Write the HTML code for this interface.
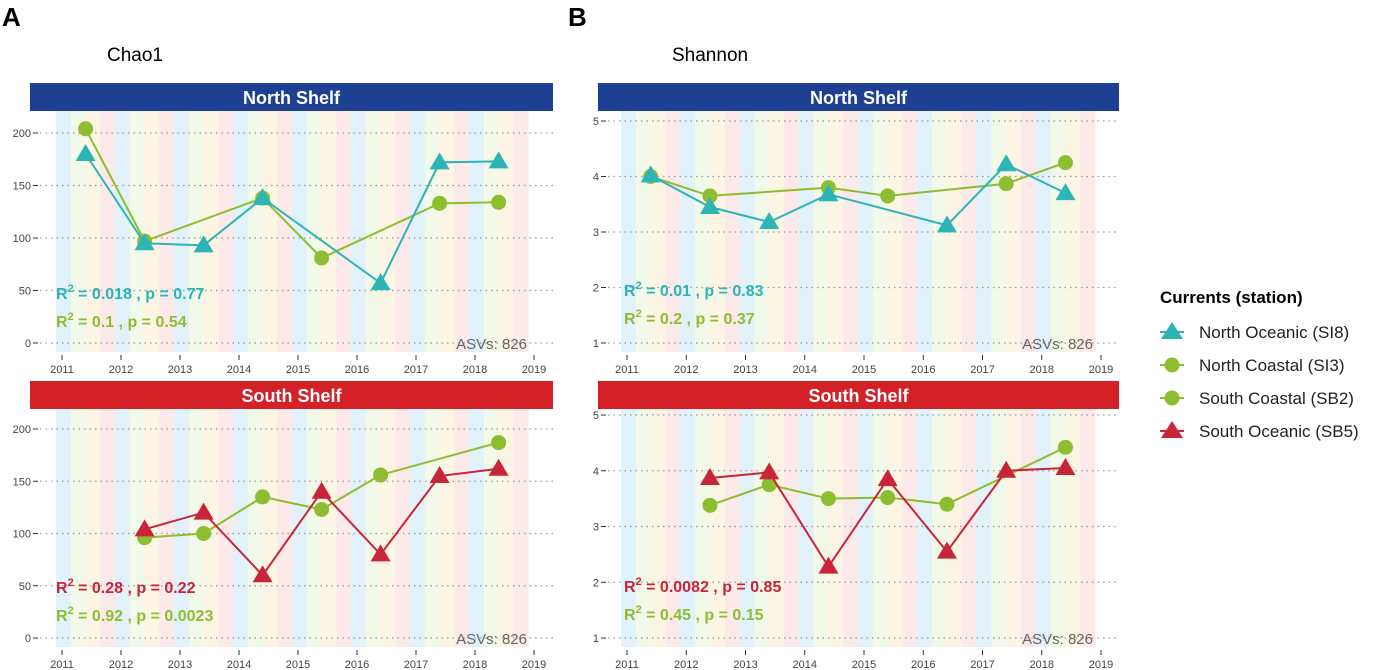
<!DOCTYPE html>
<html><head><meta charset="utf-8">
<style>
html,body{margin:0;padding:0;background:#fff;}
svg{display:block;font-family:"Liberation Sans",sans-serif;}
</style></head>
<body>
<svg id="c" width="1374" height="670" viewBox="0 0 1374 670">
<text x="2" y="26" font-size="26" font-weight="bold">A</text>
<text x="107" y="61" font-size="19">Chao1</text>
<text x="568" y="26" font-size="26" font-weight="bold">B</text>
<text x="672" y="61" font-size="19">Shannon</text>
<g id="legend">
<text x="1160" y="303" font-size="17" font-weight="bold">Currents (station)</text>
</g>
</svg>
<script>
const years = [2011.4,2012.4,2013.4,2014.4,2015.4,2016.4,2017.4,2018.4];
const xTicks = [2011,2012,2013,2014,2015,2016,2017,2018,2019];
const chaoTicks = [0,50,100,150,200];
const shanTicks = [1,2,3,4,5];
const chaoNorthTeal = [180,95,93,138,null,57,172,173];
const chaoNorthGreen = [204,97,null,138,81,null,133,134];
const chaoSouthRed = [null,104,120,60,140,80,155,162];
const chaoSouthGreen = [null,96,100,135,123,156,null,187];
const shanNorthTeal = [4.02,3.45,3.18,3.68,null,3.12,4.22,3.7];
const shanNorthGreen = [4.0,3.65,null,3.8,3.65,null,3.87,4.25];
const shanSouthRed = [null,3.87,3.97,2.28,3.85,2.55,4.0,4.05];
const shanSouthGreen = [null,3.38,3.75,3.5,3.52,3.4,null,4.42];

const NS="http://www.w3.org/2000/svg";
const svg=document.getElementById('c');
const TEAL="#2db4b6",GREEN="#8dbd30",RED="#c8243a";
function el(t,a,p){const e=document.createElementNS(NS,t);for(const k in a)e.setAttribute(k,a[k]);(p||svg).appendChild(e);return e;}

function panel(o){
  const g=el('g',{});
  
  
  const xs=v=>o.x0+(v-2011)*o.xk;
  const ys=v=>o.y0-(v-o.ymin)*o.yk;
  const sc=["#e2f2fb","#f3f9e8","#fdf5e4","#fce9ea"];
  for(let y=2011;y<2019;y++)for(let q=0;q<4;q++){
    const s=el('rect',{x:xs(y-0.1+q*0.25),y:o.top,width:o.xk*0.25+0.5,height:o.bot-o.top,fill:sc[q]},g);
    
    
  }
  const h=el('rect',{x:o.hx,y:o.hy,width:o.hw,height:28,fill:o.hcol},g);
  
  
  const ht=el('text',{x:o.hx+o.hw/2,y:o.hy+21,'text-anchor':'middle','font-size':18,'font-weight':'bold',fill:'#fff'},g);
  ht.textContent=o.title;
  
  
  o.yt.forEach(t=>{
    const yy=ys(t);
    el('line',{x1:o.hx+10,x2:o.hx+o.hw,y1:yy,y2:yy,stroke:'#999','stroke-dasharray':'1.5 4','stroke-width':1.2},g);
    el('line',{x1:o.hx+3,x2:o.hx+8,y1:yy,y2:yy,stroke:'#333'},g);
    const tl=el('text',{x:o.hx+1,y:yy+4,'text-anchor':'end','font-size':11,fill:'#444'},g);
    tl.textContent=t;
    
    
  });
  xTicks.forEach(t=>{
    const xx=xs(t);
    el('line',{x1:xx,x2:xx,y1:o.bot+3,y2:o.bot+8,stroke:'#333'},g);
    const tl=el('text',{x:xx,y:o.bot+21,'text-anchor':'middle','font-size':11,fill:'#444'},g);
    tl.textContent=t;
    
    
  });
  o.series.forEach(s=>{
    const pts=[];
    s.v.forEach((v,i)=>{if(v!==null)pts.push([xs(years[i]),ys(v)]);});
    const ln=el('polyline',{points:pts.map(p=>p.join(',')).join(' '),fill:'none',stroke:s.c,'stroke-width':2},g);
    
    
    pts.forEach(p=>{
      let m;
      if(s.tri) m=el('polygon',{points:`${p[0]},${p[1]-10} ${p[0]-10},${p[1]+7} ${p[0]+10},${p[1]+7}`,fill:s.c},g);
      else m=el('circle',{cx:p[0],cy:p[1],r:7.5,fill:s.c},g);
      
      
    });
  });
  o.stats.forEach((st,i)=>{
    const t=el('text',{x:o.hx+26,y:o.statY+i*28,'font-size':16,'font-weight':'bold',fill:st.c},g);
    t.innerHTML=`R<tspan dy="-7" font-size="11">2</tspan><tspan dy="7"> = ${st.r} , p = ${st.p}</tspan>`;
    
    
  });
  const a=el('text',{x:o.hx+o.hw-26,y:o.bot-3,'text-anchor':'end','font-size':15,fill:'#666'},g);
  a.textContent='ASVs: 826';
  
  
}
panel({name:'chao1-north-panel',title:'North Shelf',hcol:'#1f3f93',hx:30,hy:83,hw:523,top:111,bot:352,x0:62,xk:59,y0:343,ymin:0,yk:1.05,yt:chaoTicks,statY:299,
  series:[{v:chaoNorthGreen,c:GREEN},{v:chaoNorthTeal,c:TEAL,tri:true}],stats:[{c:TEAL,r:'0.018',p:'0.77'},{c:GREEN,r:'0.1',p:'0.54'}]});
panel({name:'chao1-south-panel',title:'South Shelf',hcol:'#d42027',hx:30,hy:381,hw:523,top:409,bot:647,x0:62,xk:59,y0:638,ymin:0,yk:1.045,yt:chaoTicks,statY:593,
  series:[{v:chaoSouthGreen,c:GREEN},{v:chaoSouthRed,c:RED,tri:true}],stats:[{c:RED,r:'0.28',p:'0.22'},{c:GREEN,r:'0.92',p:'0.0023'}]});
panel({name:'shannon-north-panel',title:'North Shelf',hcol:'#1f3f93',hx:598,hy:83,hw:521,top:111,bot:352,x0:627,xk:59.25,y0:343,ymin:1,yk:55.5,yt:shanTicks,statY:296,
  series:[{v:shanNorthGreen,c:GREEN},{v:shanNorthTeal,c:TEAL,tri:true}],stats:[{c:TEAL,r:'0.01',p:'0.83'},{c:GREEN,r:'0.2',p:'0.37'}]});
panel({name:'shannon-south-panel',title:'South Shelf',hcol:'#d42027',hx:598,hy:381,hw:521,top:409,bot:647,x0:627,xk:59.25,y0:638,ymin:1,yk:55.75,yt:shanTicks,statY:592,
  series:[{v:shanSouthGreen,c:GREEN},{v:shanSouthRed,c:RED,tri:true}],stats:[{c:RED,r:'0.0082',p:'0.85'},{c:GREEN,r:'0.45',p:'0.15'}]});

const lg=document.getElementById('legend');
const legItems=[['North Oceanic (SI8)',TEAL,true,332],['North Coastal (SI3)',GREEN,false,365],['South Coastal (SB2)',GREEN,false,398],['South Oceanic (SB5)',RED,true,431]];
legItems.forEach(it=>{
  const y=it[3], x=1172;
  el('line',{x1:x-12,x2:x+12,y1:y,y2:y,stroke:it[1],'stroke-width':2},lg);
  if(it[2]) el('polygon',{points:`${x},${y-10} ${x-11},${y+7} ${x+11},${y+7}`,fill:it[1]},lg);
  else el('circle',{cx:x,cy:y,r:7.5,fill:it[1]},lg);
  const t=el('text',{x:1199,y:y+6,'font-size':17,fill:'#222'},lg);
  t.textContent=it[0];
  
  
});
</script>
</body></html>
